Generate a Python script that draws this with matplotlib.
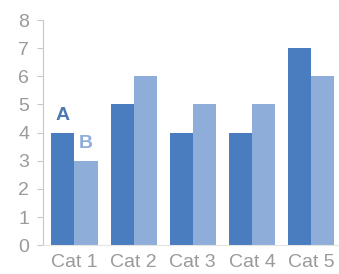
import numpy as np
import matplotlib
matplotlib.use('Agg')
import matplotlib.pyplot as plt

plt.rcParams['font.family'] = ['Liberation Sans', 'DejaVu Sans']

# data
categories = ['Cat 1', 'Cat 2', 'Cat 3', 'Cat 4', 'Cat 5']
series_a = [4, 5, 4, 4, 7]
series_b = [3, 6, 5, 5, 6]
yticks = [0, 1, 2, 3, 4, 5, 6, 7, 8]

dark = '#4a7cc0'
light = '#8fadd9'
grey = '#9a9a9a'

fig = plt.figure(figsize=(3.39, 2.74), dpi=100)
ax = fig.add_axes([0.127, 0.105, 0.873, 0.822])

x = np.arange(len(categories))
w = 0.39
ax.bar(x - w / 2, series_a, w, color=dark)
ax.bar(x + w / 2, series_b, w, color=light)

# series labels above the first group
ax.annotate('A', (x[0] - w / 2, series_a[0]), xytext=(0, 9), textcoords='offset points',
            ha='center', va='baseline', fontsize=14, fontweight='bold', color='#4f78b0')
ax.annotate('B', (x[0] + w / 2, series_b[0]), xytext=(0, 9), textcoords='offset points',
            ha='center', va='baseline', fontsize=14, fontweight='bold', color='#8fadd9')

ax.set_xlim(-0.53, 4.47)
ax.set_ylim(0, 8)
ax.set_yticks(yticks)
ax.set_xticks(x)
ax.set_xticklabels(categories)

for s in ['top', 'right']:
    ax.spines[s].set_visible(False)
ax.spines['left'].set_color('#c8c8c8')
ax.spines['bottom'].set_color('#e4e4e4')
ax.tick_params(axis='y', length=4, color='#c8c8c8', pad=6, labelsize=14, labelcolor=grey)
ax.tick_params(axis='x', length=0, pad=6.5, labelsize=14, labelcolor=grey)

fig.savefig('out.png', dpi=100)
